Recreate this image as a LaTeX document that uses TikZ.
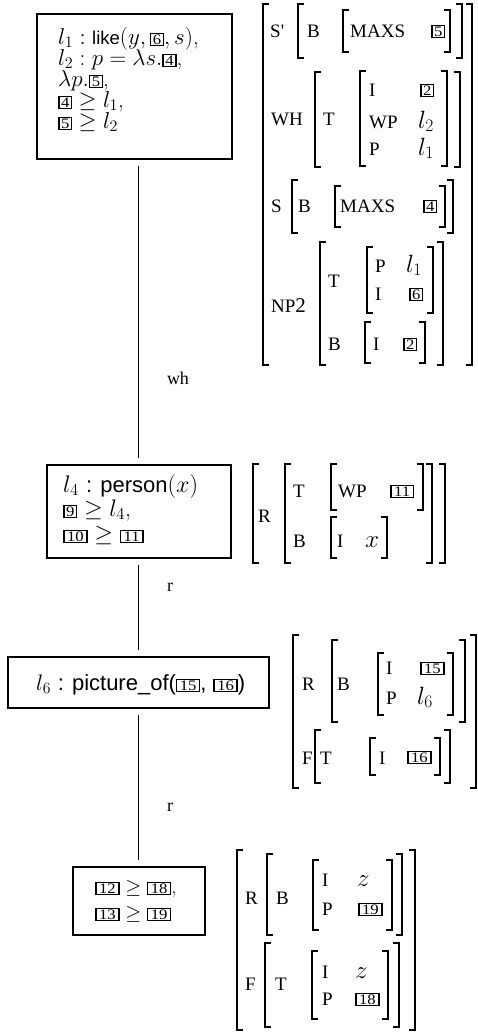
\RequirePackage{fix-cm}
\documentclass[tikz,border=0pt]{standalone}
\usepackage{fontspec}
\usepackage{graphicx}
\newfontfamily\hv{Liberation Sans}
\newfontfamily\tm{Liberation Serif}
\newcommand\digs[1]{{\tm\fontsize{14.5}{14.5}\selectfont\scalebox{1.15}[1]{#1}}}
\newcommand\bx[1]{{\setlength\fboxsep{0pt}\setlength\fboxrule{1.4pt}\fbox{\rule[-1pt]{0pt}{11pt}\hspace{1.5pt}\digs{#1}\hspace{1.5pt}}}}
\newcommand\bbx[1]{{\setlength\fboxsep{0pt}\setlength\fboxrule{1.4pt}\fbox{\rule[-1pt]{0pt}{11pt}\hspace{2.5pt}\digs{#1}\hspace{2.5pt}}}}
\newcommand\hvA[1]{{\hv\fontsize{18.5}{18.5}\selectfont #1}}
\newcommand\hvB[1]{{\hv\fontsize{22}{22}\selectfont #1}}
\newcommand\brk[4]{\draw[brkline] (#1+6,#3) -- (#1,#3) -- (#1,#4) -- (#1+6,#4);
  \draw[brkline] (#2-6,#3) -- (#2,#3) -- (#2,#4) -- (#2-6,#4);}
\begin{document}
\begin{tikzpicture}[x=1pt,y=-1pt,
  nodebox/.style={draw, line width=1.7pt, inner sep=0pt},
  conn/.style={line width=0.9pt, shorten <=6pt, shorten >=6pt},
  brkline/.style={line width=1.3pt},
  tline/.style={anchor=base west, inner sep=0pt},
  fa/.style={tline, font=\fontsize{23}{23}\selectfont},
  fb/.style={tline, font=\fontsize{24}{24}\selectfont},
  fc/.style={tline, font=\fontsize{22.5}{22.5}\selectfont},
  fd/.style={tline, font=\fontsize{20.5}{20.5}\selectfont},
  capt/.style={tline, font=\tm\fontsize{19}{19}\selectfont},
  mathv/.style={tline, font=\fontsize{25}{25}\selectfont},
  elab/.style={inner sep=0pt, font=\tm\fontsize{18}{18}\selectfont}]
\useasboundingbox (0,0) rectangle (478,1034);

% ---------- tree boxes ----------
\node[nodebox, minimum width=195pt, minimum height=145pt] (b1) at (134.5,86.5) {};
\node[nodebox, minimum width=184pt, minimum height=93pt] (b2) at (139,511.5) {};
\node[nodebox, minimum width=261pt, minimum height=51pt] (b3) at (138.5,682.5) {};
\node[nodebox, minimum width=132pt, minimum height=68pt] (b4) at (139,901) {};

\node[fa] (b1a) at (58,44) {$l_1$ \hvA{: like}$(y, \bx{6}, s)$,};
\node[fa] (b1b) at (58,65) {$l_2 : p = \lambda s.\bx{4}$,};
\node[fa] (b1c) at (58,86) {$\lambda p.\bx{5}$,};
\node[fa] (b1d) at (58,107) {$\bx{4} \geq l_1$,};
\node[fa] (b1e) at (58,128) {$\bx{5} \geq l_2$};

\node[fb] (b2a) at (63,492) {$l_4$ \hvB{: person}$(x)$};
\node[fb] (b2b) at (63,516) {$\bx{9} \geq l_4$,};
\node[fb] (b2c) at (63,541) {$\bbx{10} \geq \bbx{11}$};

\node[fc] (b3a) at (36,690) {$l_6$ \hvB{: picture\_of(}\bbx{15}\hvB{,} \bbx{16}\hvB{)}};

\node[fd] (b4a) at (95,893) {$\bbx{12} \geq \bbx{18}$,};
\node[fd] (b4b) at (95,919) {$\bbx{13} \geq \bbx{19}$};

% ---------- connectors ----------
\coordinate (lx) at (138,0);
\draw[conn] (b1.south -| lx) -- (b2.north -| lx);
\draw[conn] (b2.south -| lx) -- (b3.north -| lx);
\draw[conn] (b3.south -| lx) -- (b4.north -| lx);
\node[elab] (lwh) at (178,378) {wh};
\node[elab] (lr1) at (170,587) {r};
\node[elab] (lr2) at (170,807) {r};

% ---------- AVM 1 ----------
\brk{263}{472}{4}{365}
\node[capt] (s1) at (270,37) {S'};
\brk{298}{462}{4}{58}
\node[capt] (s1b) at (307,37) {B};
\brk{343}{450}{10}{52}
\node[capt] (s1m) at (350,37) {MAXS};
\node[tline] (s1v) at (431,36) {\bx{5}};

\node[capt] (w1) at (271,125) {WH};
\brk{315}{460}{72}{167}
\node[capt] (w1t) at (323,125) {T};
\brk{360}{447}{71}{166}
\node[capt] (w1i) at (369,96) {I};
\node[tline] (w1iv) at (420,95) {\bx{2}};
\node[capt] (w1w) at (369,128) {WP};
\node[mathv] (w1wv) at (418,128) {$l_2$};
\node[capt] (w1p) at (369,155) {P};
\node[mathv] (w1pv) at (418,155) {$l_1$};

\node[capt] (ss) at (271,212) {S};
\brk{292}{453}{180}{233}
\node[capt] (ssb) at (298,212) {B};
\brk{335}{445}{186}{227}
\node[capt] (ssm) at (340,212) {MAXS};
\node[tline] (ssv) at (423,211) {\bx{4}};

\node[capt] (np) at (271,312) {NP{\fontsize{21}{21}\selectfont 2}};
\brk{320}{443}{242}{365}
\node[capt] (npt) at (328,287) {T};
\brk{367}{433}{247}{313}
\node[capt] (nptp) at (375,272) {P};
\node[mathv] (nptpv) at (406,272) {$l_1$};
\node[capt] (npti) at (375,300) {I};
\node[tline] (nptiv) at (409,299) {\bx{6}};
\node[capt] (npb) at (328,350) {B};
\brk{365}{425}{322}{363}
\node[capt] (npbi) at (373,350) {I};
\node[tline] (npbiv) at (403,349) {\bx{2}};

% ---------- AVM 2 ----------
\brk{253}{445}{464}{563}
\node[capt] (r2) at (258,522) {R};
\brk{285}{432}{464}{563}
\node[capt] (r2t) at (293,497) {T};
\brk{331}{423}{464}{510}
\node[capt] (r2w) at (338,497) {WP};
\node[tline] (r2wv) at (390,496) {\bbx{11}};
\node[capt] (r2b) at (293,547) {B};
\brk{331}{387}{517}{558}
\node[capt] (r2i) at (337,547) {I};
\node[mathv] (r2iv) at (365,547) {$x$};

% ---------- AVM 3 ----------
\brk{293}{476}{635}{788}
\node[capt] (r3) at (302,690) {R};
\brk{332}{465}{640}{722}
\node[capt] (r3b) at (337,690) {B};
\brk{378}{453}{653}{715}
\node[capt] (r3i) at (386,674) {I};
\node[tline] (r3iv) at (420,673) {\bbx{15}};
\node[capt] (r3p) at (386,704) {P};
\node[mathv] (r3pv) at (417,704) {$l_6$};
\node[capt] (f3) at (302,764) {F};
\brk{315}{450}{730}{783}
\node[capt] (f3t) at (320,764) {T};
\brk{370}{440}{738}{775}
\node[capt] (f3i) at (379,764) {I};
\node[tline] (f3iv) at (407,762) {\bbx{16}};

% ---------- AVM 4 ----------
\brk{237}{415}{850}{1030}
\node[capt] (r4) at (245,904) {R};
\brk{267}{402}{854}{935}
\node[capt] (r4b) at (276,904) {B};
\brk{313}{392}{860}{930}
\node[capt] (r4i) at (322,886) {I};
\node[mathv] (r4iv) at (357,886) {$z$};
\node[capt] (r4p) at (322,915) {P};
\node[tline] (r4pv) at (358,914) {\bbx{19}};
\node[capt] (f4) at (245,990) {F};
\brk{265}{399}{943}{1027}
\node[capt] (f4t) at (275,990) {T};
\brk{312}{388}{951}{1019}
\node[capt] (f4i) at (322,978) {I};
\node[mathv] (f4iv) at (355,978) {$z$};
\node[capt] (f4p) at (322,1005) {P};
\node[tline] (f4pv) at (355,1004) {\bbx{18}};
\end{tikzpicture}
\end{document}
